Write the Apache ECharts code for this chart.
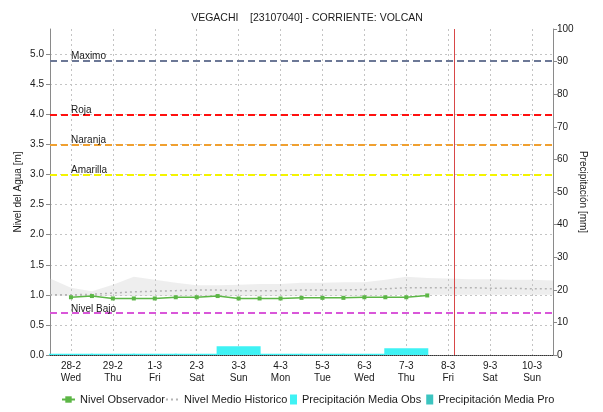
<!DOCTYPE html>
<html>
<head>
<meta charset="utf-8">
<script src="https://cdn.jsdelivr.net/npm/echarts@6/dist/echarts.min.js"></script>
<style>
  html, body { margin: 0; padding: 0; background: #fff; }
  #chart { width: 603px; height: 412px; }
</style>
</head>
<body>
<div id="chart"></div>
<script>
// Days shown on the time axis
const dayLabels = ['28-2', '29-2', '1-3', '2-3', '3-3', '4-3', '5-3', '6-3', '7-3', '8-3', '9-3', '10-3'];
const weekdayLabels = ['Wed', 'Thu', 'Fri', 'Sat', 'Sun', 'Mon', 'Tue', 'Wed', 'Thu', 'Fri', 'Sat', 'Sun'];

// Observed water level [m], every 12 h starting 28-2
const obsLevel = [0.96, 0.98, 0.94, 0.94, 0.94, 0.96, 0.96, 0.98, 0.94, 0.94,
                  0.94, 0.95, 0.95, 0.95, 0.96, 0.96, 0.96, 0.99];

// Historical mean level and its range [m], every 12 h starting half a day before 28-2
const histMean  = [1.00, 1.00, 1.01, 1.03, 1.05, 1.06, 1.07, 1.08, 1.08, 1.07, 1.07, 1.07, 1.08,
                   1.08, 1.08, 1.09, 1.10, 1.12, 1.12, 1.12, 1.12, 1.11, 1.11, 1.10, 1.10];
const histUpper = [1.27, 1.12, 1.06, 1.17, 1.30, 1.25, 1.20, 1.16, 1.16, 1.17, 1.18, 1.18, 1.20,
                   1.20, 1.21, 1.21, 1.25, 1.30, 1.28, 1.27, 1.26, 1.26, 1.25, 1.25, 1.24];
const histLower = [0.99, 0.98, 0.98, 0.98, 0.98, 0.98, 0.98, 0.98, 0.98, 0.98, 0.98, 0.98, 0.98,
                   0.98, 0.98, 0.98, 0.99, 1.00, 1.00, 1.00, 1.00, 1.00, 1.00, 1.00, 1.00];

// Daily mean precipitation [mm]
const precipObs = [0.4, 0.4, 0.4, 0.4, 2.7, 0.4, 0.4, 0.4, 2.1];
const precipPro = [];

// Alert thresholds [m]
const thresholdNames  = ['Maximo', 'Roja', 'Naranja', 'Amarilla', 'Nivel Bajo'];
const thresholdValues = [4.9, 4.0, 3.5, 3.0, 0.7];

// Current time, in days from 28-2 00:00
const nowDay = 9.15;

const thresholdColors = ['#6c7896', '#ff1010', '#f0a030', '#f4f400', '#d957d9'];
const FONT = 'Liberation Sans, Arial, sans-serif';

// Half-day slots: slot k sits at day (k - 1) / 2
const slots = [];
for (let k = 0; k <= 2 * dayLabels.length; k++) {
  if (k % 2 === 1) {
    const d = (k - 1) / 2;
    slots.push(dayLabels[d] + '\n' + weekdayLabels[d]);
  } else {
    slots.push('slot' + k);
  }
}
const onDay = (idx) => idx % 2 === 1;
const dayToSlot = (d) => 2 * d + 1;

const obsData   = obsLevel.map((v, i) => [1 + i, v]);
const rangeData = histUpper.map((v, i) => +(v - histLower[i]).toFixed(3));
const pObsData  = precipObs.map((v, i) => [dayToSlot(i), v]);
const pProData  = precipPro.map((v, i) => [dayToSlot(i), v]);

const thresholdLines = thresholdValues.map((v, i) => ({
  yAxis: v,
  lineStyle: { color: thresholdColors[i], type: [7, 4], width: 2 },
  label: {
    show: true,
    formatter: thresholdNames[i],
    position: 'insideStartTop',
    distance: [21, -1],
    color: '#1a1a1a',
    fontSize: 10,
    fontFamily: FONT
  }
}));

const chart = echarts.init(document.getElementById('chart'), null, { renderer: 'canvas' });

chart.setOption({
  animation: false,
  backgroundColor: '#ffffff',
  title: {
    text: 'VEGACHI    [23107040] - CORRIENTE: VOLCAN',
    left: 302,
    textAlign: 'center',
    top: 8,
    textStyle: { fontSize: 10.5, fontWeight: 'normal', color: '#1a1a1a', fontFamily: FONT }
  },
  grid: { left: 50, right: 50, top: 29, bottom: 57, containLabel: false },
  legend: [
    {
      left: 61, top: 394, padding: 0,
      itemWidth: 13, itemHeight: 8, itemGap: 0,
      textStyle: { fontSize: 11, color: '#1a1a1a', fontFamily: FONT },
      data: [
        { name: 'Nivel Observador' },
        { name: 'Nivel Medio Historico', itemStyle: { opacity: 0 } }
      ]
    },
    {
      left: 290, top: 394, padding: 0,
      itemWidth: 7, itemHeight: 10, itemGap: 5,
      textStyle: { fontSize: 11, color: '#1a1a1a', fontFamily: FONT },
      data: [
        { name: 'Precipitación Media Obs', icon: 'rect' },
        { name: 'Precipitación Media Pro', icon: 'rect' }
      ]
    }
  ],
  xAxis: [
    {
      type: 'category',
      data: slots,
      boundaryGap: false,
      axisLine: { show: true, onZero: false, lineStyle: { color: '#333', type: [1, 1], width: 1 } },
      axisTick: { show: false },
      axisLabel: {
        interval: (idx) => onDay(idx),
        formatter: (val, idx) => (onDay(idx) ? val : ''),
        color: '#1a1a1a', fontSize: 10, fontFamily: FONT, lineHeight: 12, margin: 5
      },
      splitLine: {
        show: true,
        interval: (idx) => onDay(idx),
        lineStyle: { color: '#c4c4c4', type: [2, 3], width: 1 }
      }
    },
    {
      // day scale used for the current-time marker
      type: 'value',
      min: -0.5,
      max: dayLabels.length - 0.5,
      show: false,
      splitLine: { show: false }
    }
  ],
  yAxis: [
    {
      type: 'value',
      min: 0, max: 5.42, interval: 0.5,
      name: 'Nivel del Agua [m]',
      nameLocation: 'middle',
      nameGap: 27,
      nameMoveOverlap: false,
      nameTextStyle: { fontSize: 10, color: '#1a1a1a', fontFamily: FONT },
      axisLine: { show: true, onZero: false, lineStyle: { color: '#8a8a8a', width: 1 } },
      axisTick: { show: true, length: 4, lineStyle: { color: '#8a8a8a' } },
      axisLabel: {
        formatter: (v) => v.toFixed(1), showMaxLabel: false,
        color: '#1a1a1a', fontSize: 10, fontFamily: FONT, margin: 6
      },
      splitLine: { show: true, showMaxLine: false, lineStyle: { color: '#c4c4c4', type: [2, 3], width: 1 } }
    },
    {
      type: 'value',
      min: 0, max: 100, interval: 10,
      position: 'right',
      name: 'Precipitación [mm]',
      nameLocation: 'middle',
      nameGap: 25,
      nameRotate: -90,
      nameMoveOverlap: false,
      nameTextStyle: { fontSize: 10, color: '#1a1a1a', fontFamily: FONT },
      axisLine: { show: true, onZero: false, lineStyle: { color: '#8a8a8a', width: 1 } },
      axisTick: { show: true, length: 4, lineStyle: { color: '#8a8a8a' } },
      axisLabel: { color: '#1a1a1a', fontSize: 10, fontFamily: FONT, margin: 4 },
      splitLine: { show: false }
    }
  ],
  series: [
    {
      name: 'Precipitación Media Obs',
      type: 'bar',
      xAxisIndex: 0, yAxisIndex: 1,
      data: pObsData,
      barWidth: 44,
      barGap: '-100%',
      itemStyle: { color: '#3ff2f4' },
      z: 1
    },
    {
      name: 'Precipitación Media Pro',
      type: 'bar',
      xAxisIndex: 0, yAxisIndex: 1,
      data: pProData,
      barWidth: 44,
      barGap: '-100%',
      itemStyle: { color: '#3cc4c0' },
      z: 1
    },
    {
      name: 'histLow',
      type: 'line',
      xAxisIndex: 0, yAxisIndex: 0,
      data: histLower,
      stack: 'hist',
      symbol: 'none',
      lineStyle: { opacity: 0 },
      silent: true,
      z: 2
    },
    {
      name: 'histRange',
      type: 'line',
      xAxisIndex: 0, yAxisIndex: 0,
      data: rangeData,
      stack: 'hist',
      symbol: 'none',
      lineStyle: { opacity: 0 },
      areaStyle: { color: 'rgba(200,200,200,0.45)' },
      silent: true,
      z: 2
    },
    {
      name: 'Nivel Medio Historico',
      type: 'line',
      xAxisIndex: 0, yAxisIndex: 0,
      data: histMean,
      symbol: 'none',
      itemStyle: { color: '#b4b4b4' },
      lineStyle: { color: '#b4b4b4', width: 1.5, type: [2, 3] },
      z: 3
    },
    {
      name: 'Nivel Observador',
      type: 'line',
      xAxisIndex: 0, yAxisIndex: 0,
      data: obsData,
      symbol: 'rect',
      symbolSize: 4,
      itemStyle: { color: '#5cb646' },
      lineStyle: { color: '#5cb646', width: 1.5 },
      markLine: {
        silent: true,
        symbol: ['none', 'none'],
        animation: false,
        data: thresholdLines
      },
      z: 5
    },
    {
      name: 'now',
      type: 'line',
      xAxisIndex: 1, yAxisIndex: 0,
      data: [],
      markLine: {
        silent: true,
        symbol: ['none', 'none'],
        animation: false,
        label: { show: false },
        lineStyle: { color: '#d84848', type: 'solid', width: 1 },
        data: [{ xAxis: nowDay }]
      },
      z: 4
    }
  ]
});
</script>
</body>
</html>
